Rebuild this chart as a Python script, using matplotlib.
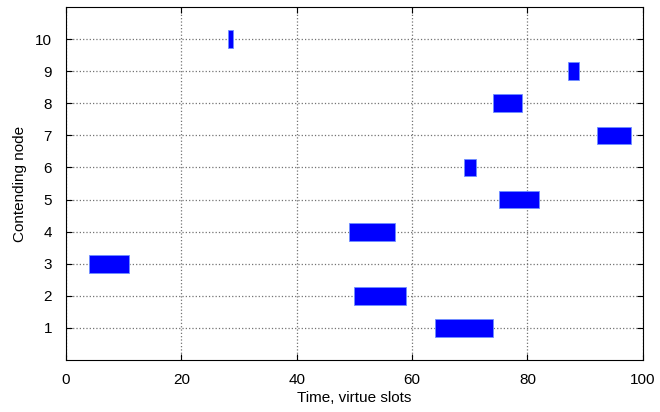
import matplotlib
matplotlib.use("Agg")
import matplotlib.pyplot as plt

# contention intervals
nodes = [1, 2, 3, 4, 5, 6, 7, 8, 9, 10]
starts = [64, 50, 4, 49, 75, 69, 92, 74, 87, 28]
ends = [74, 59, 11, 57, 82, 71, 98, 79, 89, 29]
xticks = [0, 20, 40, 60, 80, 100]
yticks = [1, 2, 3, 4, 5, 6, 7, 8, 9, 10]

plt.rcParams['font.family'] = ['Liberation Sans', 'DejaVu Sans']

fig = plt.figure(figsize=(6.6, 4.12), dpi=100)
ax = fig.add_axes([0.1, 0.126, 0.874, 0.857])

widths = [e - s for s, e in zip(starts, ends)]
ax.barh(nodes, widths, left=starts, height=0.55, color='#0000ff',
        edgecolor='#6f8fff', linewidth=0.6, zorder=3)

ax.set_xlim(0, 100)
ax.set_ylim(0, 11)
ax.set_xticks(xticks)
ax.set_yticks(yticks)
ax.tick_params(direction='in', top=True, right=True, labelsize=11,
               length=4, width=0.8)
ax.tick_params(axis='x', pad=9)
ax.tick_params(axis='y', pad=10)
ax.grid(True, linestyle=':', color='0.45', linewidth=0.9, zorder=0)
for s in ax.spines.values():
    s.set_linewidth(0.8)

ax.set_xlabel('Time, virtue slots', fontsize=11, labelpad=3)
ax.set_ylabel('Contending node', fontsize=11, labelpad=6)

fig.savefig('out.png', dpi=100)
